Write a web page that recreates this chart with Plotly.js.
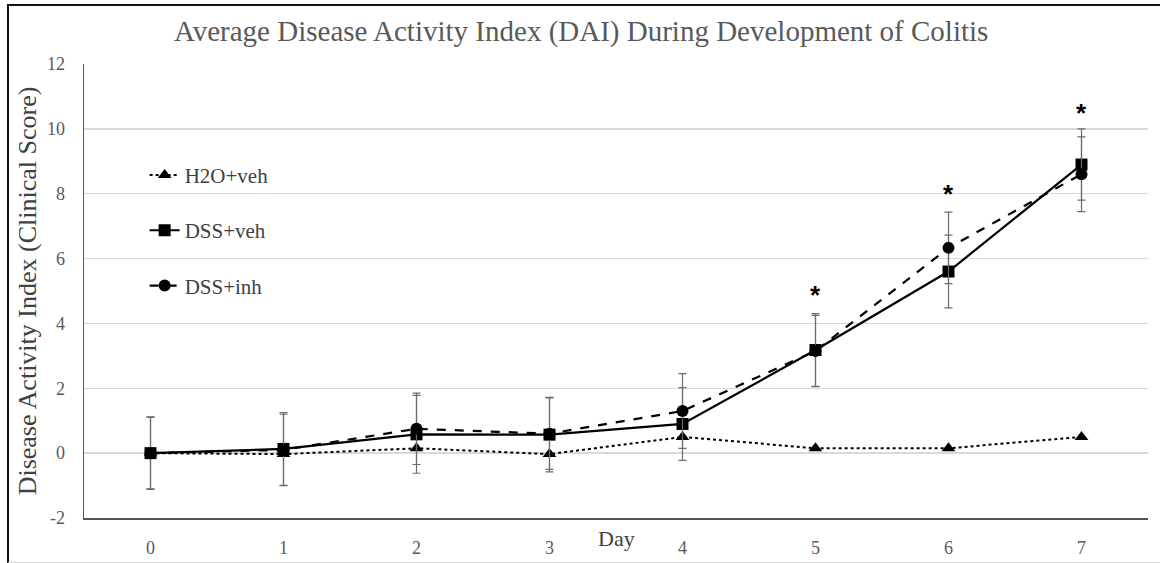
<!DOCTYPE html>
<html>
<head>
<meta charset="utf-8">
<script src="https://cdn.plot.ly/plotly-3.0.1.min.js"></script>
<style>
  html, body { margin: 0; padding: 0; background: #fff; }
  #frame { position: absolute; left: 7px; top: 4px; width: 1160px; height: 556px;
           border-left: 2px solid #111; border-top: 2px solid #111; border-bottom: 1px solid #d8d8d8; }
  #chart { position: absolute; left: 0; top: 0; width: 1160px; height: 563px; }
</style>
</head>
<body>
<div id="frame"></div>
<div id="chart"></div>
<script>
const days = [0, 1, 2, 3, 4, 5, 6, 7];
const dayLabels = ["0", "1", "2", "3", "4", "5", "6", "7"];

const h2oVeh = [0, -0.03, 0.15, -0.03, 0.5, 0.15, 0.15, 0.5];
const dssVeh = [0, 0.13, 0.58, 0.57, 0.9, 3.18, 5.6, 8.9];
const dssInh = [0, 0.1, 0.75, 0.6, 1.3, 3.15, 6.33, 8.6];

const dssVehErr = [1.12, 1.12, 1.2, 1.15, 1.12, 1.12, 1.12, 1.1];
const dssInhErr = [1.1, 1.1, 1.1, 1.1, 1.15, 1.1, 1.1, 1.15];

const starDays = [5, 6, 7];
const starY = [4.88, 7.98, 10.48];

const serif = "'Liberation Serif', 'Times New Roman', serif";
const gray = "#595959";

const errStyle = (arr) => ({ type: "data", array: arr, visible: true, color: "#6b6b6b", thickness: 1.2, width: 4 });

const traces = [
  { x: days, y: h2oVeh, name: "H2O+veh", mode: "lines+markers", legendgroup: "a",
    line: { color: "#000", width: 2, dash: "dot" },
    marker: { symbol: "triangle-up", size: 12, color: "#000" } },
  { x: days, y: dssVeh, name: "DSS+veh", mode: "lines+markers", legendgroup: "b",
    line: { color: "#000", width: 2.2 },
    marker: { symbol: "square", size: 12, color: "#000" },
    error_y: errStyle(dssVehErr) },
  { x: days, y: dssInh, name: "DSS+inh", mode: "lines+markers", legendgroup: "c",
    line: { color: "#000", width: 2.2, dash: "dash" },
    marker: { symbol: "circle", size: 12, color: "#000" },
    error_y: errStyle(dssInhErr) }
];

const annotations = starDays.map((d, i) => ({
  x: d, y: starY[i], xref: "x", yref: "y", text: "<b>*</b>", showarrow: false,
  font: { family: "'Liberation Sans', Arial, sans-serif", size: 26, color: "#000" },
  yanchor: "middle"
}));
annotations.push({
  xref: "paper", yref: "paper", x: 0.5, y: -0.045, text: "Day", showarrow: false,
  xanchor: "center", yanchor: "middle",
  font: { family: serif, size: 22, color: "#404040" }
});

const layout = {
  width: 1160, height: 563,
  paper_bgcolor: "rgba(0,0,0,0)", plot_bgcolor: "rgba(0,0,0,0)",
  margin: { l: 84, r: 12, t: 64, b: 45 },
  font: { family: serif },
  title: { text: "Average Disease Activity Index (DAI) During Development of Colitis",
           x: 0.501, xref: "container", xanchor: "center", y: 0.945, yanchor: "middle",
           font: { family: serif, size: 29, color: gray } },
  xaxis: {
    type: "linear", range: [-0.5, 7.5], tickvals: days, ticktext: dayLabels,
    showgrid: false, zeroline: false, showline: true, linecolor: "#555", linewidth: 1.5,
    ticks: "outside", ticklen: 13, tickcolor: "rgba(0,0,0,0)",
    tickfont: { family: serif, size: 18, color: gray }
  },
  yaxis: {
    range: [-2, 12], tickvals: [-2, 0, 2, 4, 6, 8, 10, 12], ticktext: ["-2","0","2","4","6","8","10","12"],
    showgrid: true, gridcolor: "#d9d9d9", gridwidth: 1.5, zeroline: false,
    showline: true, linecolor: "#555", linewidth: 1.5,
    ticks: "outside", ticklen: 14, tickcolor: "rgba(0,0,0,0)",
    tickfont: { family: serif, size: 18, color: gray },
    title: { text: "Disease Activity Index (Clinical Score)", standoff: 3,
             font: { family: serif, size: 26, color: "#404040" } }
  },
  showlegend: true,
  legend: {
    x: 0.057, y: 0.8, xanchor: "left", yanchor: "top",
    bgcolor: "rgba(0,0,0,0)", traceorder: "grouped", tracegroupgap: 25,
    font: { family: serif, size: 21, color: "#404040" }
  },
  annotations: annotations
};

Plotly.newPlot("chart", traces, layout, { displayModeBar: false, staticPlot: true });
</script>
</body>
</html>
